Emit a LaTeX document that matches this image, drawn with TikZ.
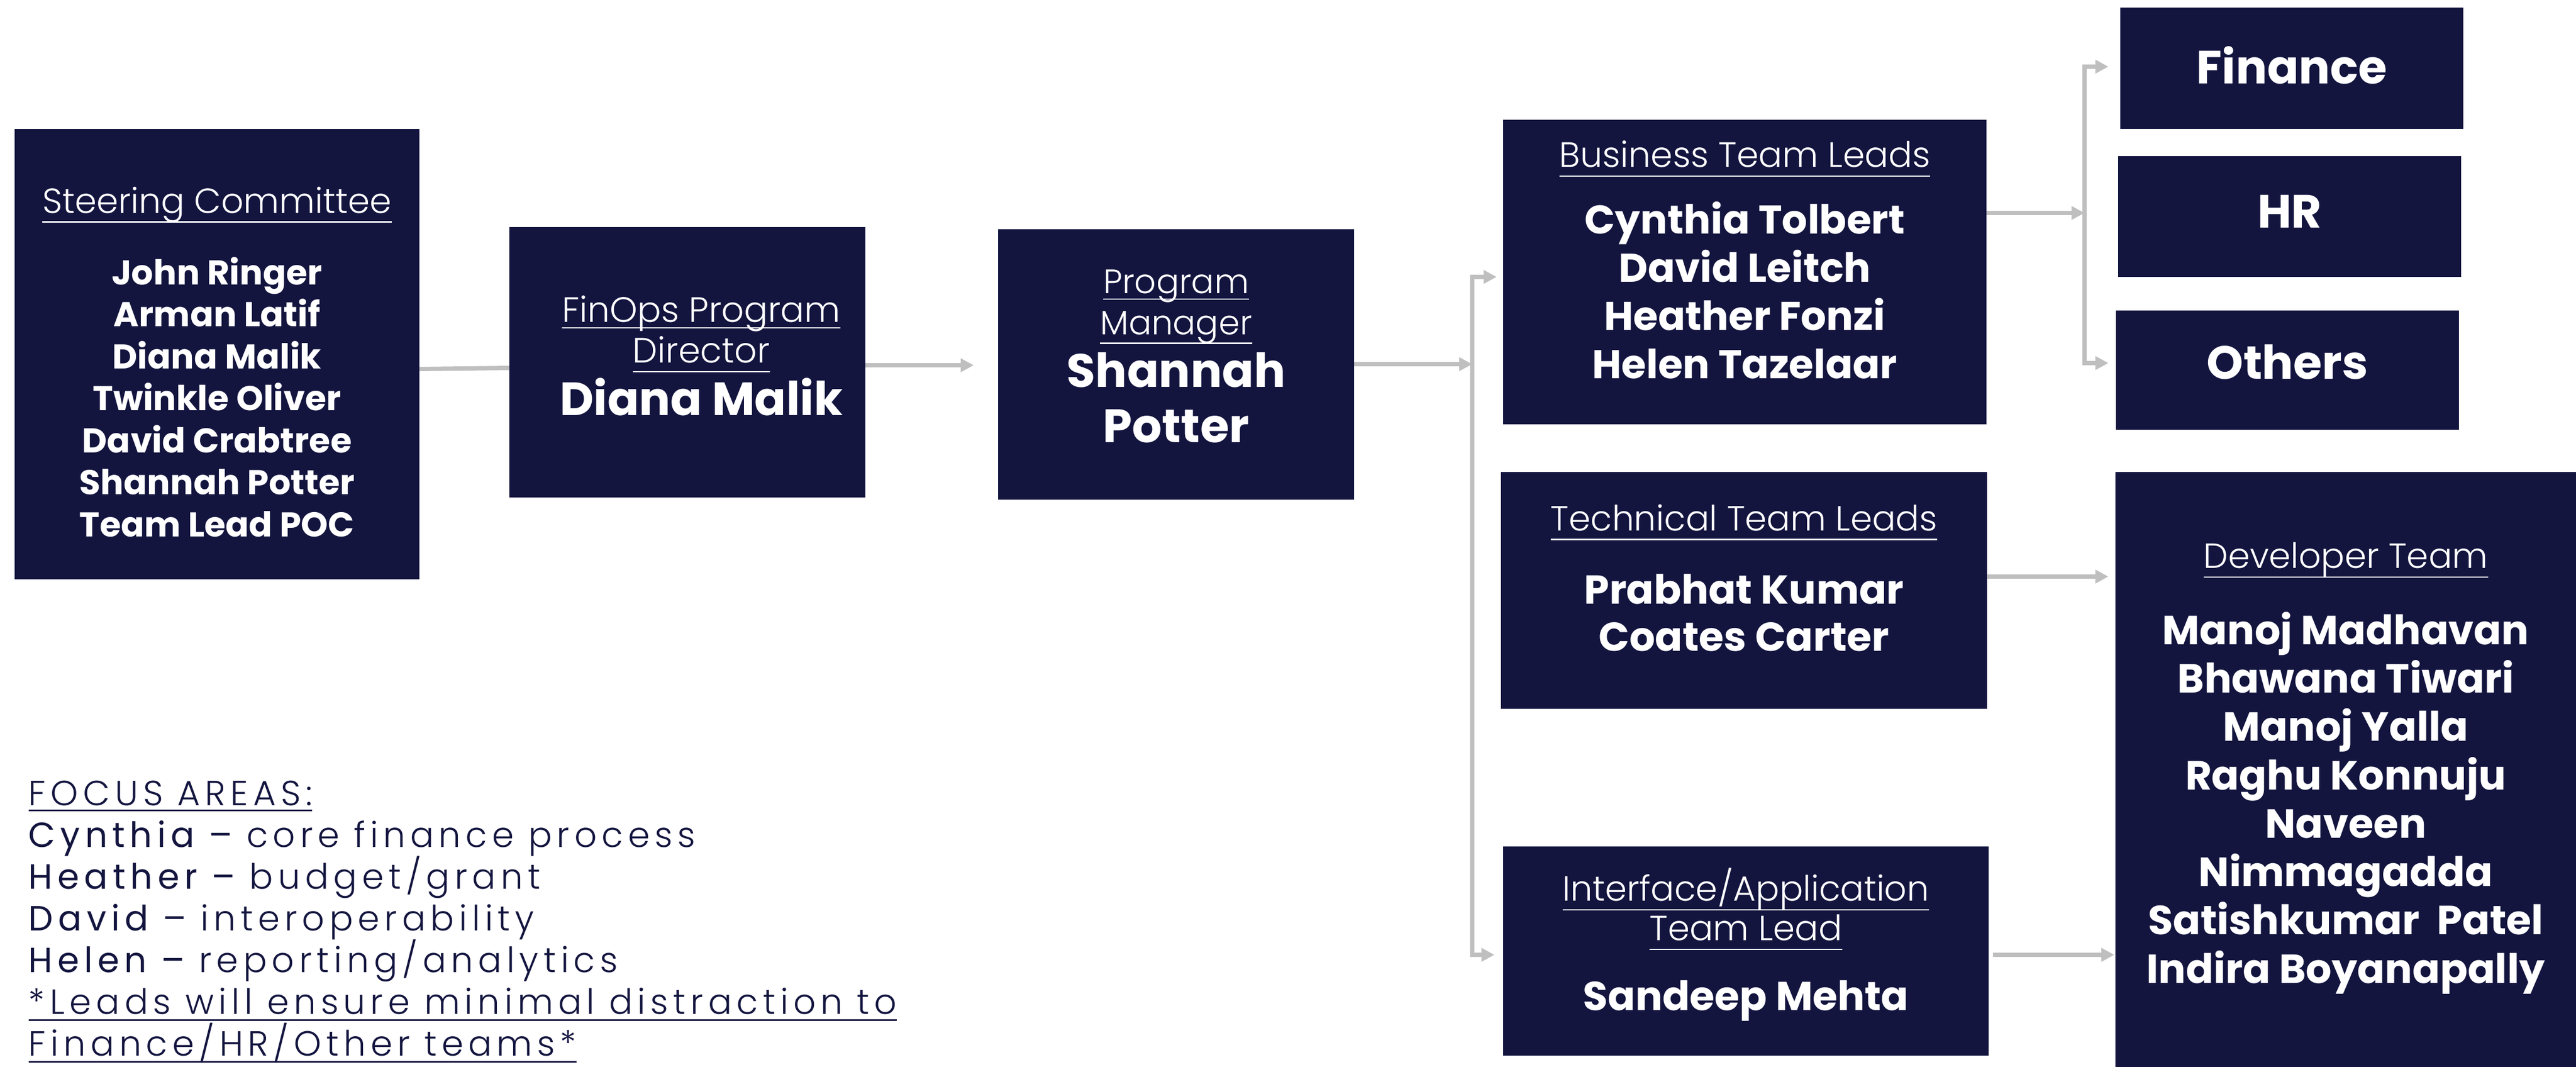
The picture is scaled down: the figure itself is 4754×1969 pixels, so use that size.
\documentclass[tikz,border=0pt]{standalone}
\usepackage{fontspec}
\setmainfont{Poppins}
\newfontfamily\lightfont{Poppins}[UprightFont = * Light]
\newfontfamily\focusfont{Poppins}[LetterSpace = 14]
\newfontfamily\focuslight{Poppins}[UprightFont = * Light, LetterSpace = 14]
\usetikzlibrary{arrows.meta}
\definecolor{navy}{HTML}{13153F}
\definecolor{linegray}{HTML}{BFBFBF}
\newlength{\uldepth}\setlength{\uldepth}{3pt}
\newlength{\ulthick}\setlength{\ulthick}{0.5pt}
\newcommand{\undl}[1]{\setbox0=\hbox{#1}\leavevmode\rlap{\vrule width\wd0 height -\uldepth depth \dimexpr\uldepth+\ulthick\relax}\box0}
\lineskiplimit=-\maxdimen
\newcommand{\hd}[1]{{\lightfont\mdseries\undl{#1}}}

\begin{document}
\begin{tikzpicture}[
  x = 0.2pt, y = -0.2pt,
  box/.style = {fill = navy, text = white, inner sep = 0pt, outer sep = 0pt, align = center},
  conn/.style = {draw = linegray, line width = 1.6pt},
  arr/.style = {conn, -{Triangle[length = 4.8pt, width = 4.8pt]}},
  ]
  \useasboundingbox (0,0) rectangle (4754,1969);
  \node[box, minimum width = 149.4pt, minimum height = 166.2pt, text height = 134.8pt,
        font = \bfseries\fontsize{12.7}{15.5}\selectfont] (sc) at (400.5,653.5)
    {{\fontsize{12.9}{15.5}\selectfont\hd{Steering Committee}}\\[10.9pt]John Ringer\\Arman Latif\\Diana Malik\\Twinkle Oliver\\David Crabtree\\Shannah Potter\\Team Lead POC};
  \node[box, minimum width = 131.4pt, minimum height = 99.8pt, text depth = 4.8pt,
        font = \fontsize{13}{15}\selectfont] (dir) at (1268.5,668.5)
    {\setlength{\uldepth}{1.8pt}\hspace*{10.3pt}\hd{FinOps Program}\\\hspace*{10.3pt}\hd{Director}\\[4.4pt]\hspace*{10.3pt}{\bfseries\fontsize{17.2}{15}\selectfont Diana Malik}};
  \node[box, minimum width = 131.4pt, minimum height = 99.8pt, text depth = 6pt,
        font = \fontsize{12.5}{15.1}\selectfont] (pm) at (2170.5,672.5)
    {\setlength{\uldepth}{1.8pt}\hd{Program}\\\hd{Manager}\\[4.4pt]{\bfseries\fontsize{17.3}{15}\selectfont Shannah}\\[5.3pt]{\bfseries\fontsize{17.3}{15}\selectfont Potter}};
  \node[box, minimum width = 178.4pt, minimum height = 112.4pt, text depth = 9.1pt,
        font = \bfseries\fontsize{14.8}{17.8}\selectfont] (bus) at (3220,502)
    {{\fontsize{13}{17.8}\selectfont\hd{Business Team Leads}}\\[6.7pt]Cynthia Tolbert\\David Leitch\\Heather Fonzi\\Helen Tazelaar};
  \node[box, minimum width = 179.4pt, minimum height = 87.4pt, text depth = 9.3pt,
        font = \bfseries\fontsize{14.9}{17.4}\selectfont] (tech) at (3218.5,1089.5)
    {{\fontsize{12.9}{17.4}\selectfont\hd{Technical Team Leads}}\\[9.7pt]Prabhat Kumar\\Coates Carter};
  \node[box, minimum width = 179.2pt, minimum height = 77.2pt, text depth = 8.7pt,
        font = \fontsize{12.9}{14.6}\selectfont] (ifc) at (3222,1755)
    {\hd{Interface/Application}\\\hd{Team Lead}\\[11.1pt]{\bfseries\fontsize{14.9}{14.6}\selectfont Sandeep Mehta}};
  \node[box, minimum width = 126.6pt, minimum height = 44.8pt, text depth = 2.4pt,
        font = \bfseries\fontsize{17.2}{20}\selectfont] (fin) at (4229.5,126) {Finance};
  \node[box, minimum width = 126.6pt, minimum height = 44.6pt, text depth = 3.6pt,
        font = \bfseries\fontsize{17.2}{20}\selectfont] (hr) at (4225.5,399.5) {HR};
  \node[box, minimum width = 126.6pt, minimum height = 44pt, text depth = 6pt,
        font = \bfseries\fontsize{17.2}{20}\selectfont] (oth) at (4221.5,683) {Others};
  \node[box, minimum width = 170pt, minimum height = 219.6pt, text depth = 5pt,
        font = \bfseries\fontsize{15}{17.85}\selectfont] (dev) at (4329,1420)
    {{\fontsize{12.9}{17.85}\selectfont\hd{Developer Team}}\\[10.25pt]Manoj Madhavan\\Bhawana Tiwari\\Manoj Yalla\\Raghu Konnuju\\Naveen\\Nimmagadda\\Satishkumar\ \ Patel\\Indira Boyanapally};
  \node[anchor = north west, inner sep = 0pt, align = left, text = navy,
        font = \focuslight\fontsize{12.9}{15.4}\selectfont] (focus) at (52,1440)
    {{\setlength{\uldepth}{1.5pt}\setlength{\ulthick}{0.6pt}\undl{FOCUS AREAS:}}\\
     {\focusfont Cynthia –} core finance process\\
     {\focusfont Heather –} budget/grant\\
     {\focusfont David –} interoperability\\
     {\focusfont Helen –} reporting/analytics\\
     {\setlength{\uldepth}{1.8pt}\setlength{\ulthick}{0.7pt}\undl{*Leads will ensure minimal distraction to}}\\
     {\setlength{\uldepth}{1.8pt}\setlength{\ulthick}{0.7pt}\undl{Finance/HR/Other teams*}}};
  \coordinate (jl) at (2717,672);
  \coordinate (jr) at (3847,393);
  \draw[conn] (sc.east |- 0,681) -- (dir.west |- 0,679);
  \draw[arr, shorten >= 9pt] (dir.east |- 0,674) -- (pm.west |- 0,674);
  \draw[arr] (pm.east |- jl) -- (jl);
  \draw[arr, shorten >= 2.4pt] (jl) |- (bus.west |- 0,511);
  \draw[arr, shorten >= 3.2pt] (jl) |- (ifc.west |- 0,1762);
  \draw[arr] (bus.east |- jr) -- (jr);
  \draw[arr, shorten >= 4.4pt] (jr) |- (fin.west |- 0,123);
  \draw[arr, shorten >= 2.8pt] (jr) |- (oth.west |- 0,670);
  \draw[arr, shorten >= 2.6pt] (tech.east |- 0,1064) -- (dev.west |- 0,1064);
  \draw[arr, shorten <= 1.6pt, shorten >= 0.4pt] (ifc.east |- 0,1762) -- (dev.west |- 0,1762);
\end{tikzpicture}
\end{document}
